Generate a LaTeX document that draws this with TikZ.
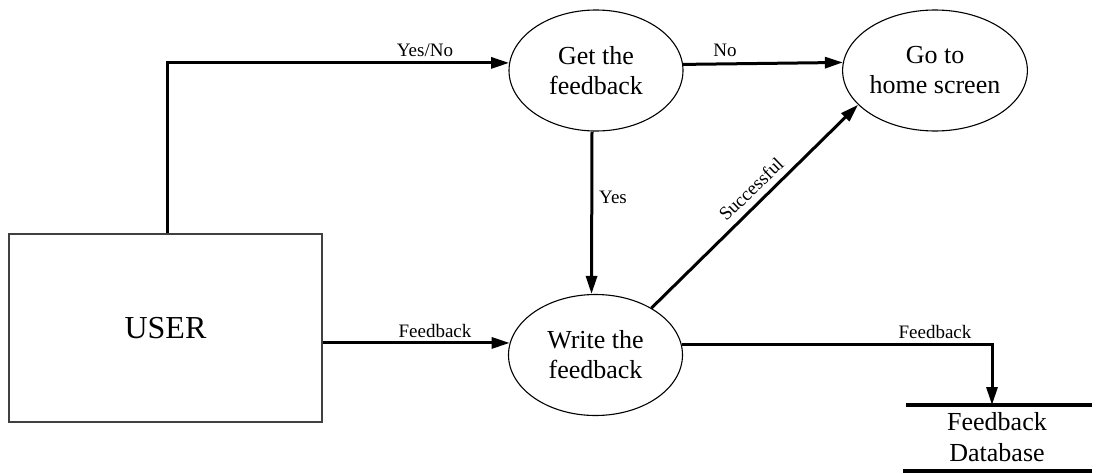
\documentclass[tikz,border=0pt]{standalone}
\usepackage{fontspec}
\setmainfont{Liberation Serif}
\usetikzlibrary{shapes.geometric,arrows.meta,calc}

\tikzset{
  process/.style={ellipse, draw, line width=1.1pt, minimum width=174pt,
    minimum height=121pt, inner sep=0pt, align=center,
    font=\fontsize{26}{30}\selectfont},
  entity/.style={rectangle, draw=black!75, line width=1.5pt,
    minimum width=313pt, minimum height=188pt, inner sep=0pt,
    font=\fontsize{32}{36}\selectfont},
  flow/.style={line width=3pt, -{Triangle[length=18pt,width=11pt]}},
  flowlabel/.style={inner sep=0pt, font=\fontsize{19}{22}\selectfont},
  storeline/.style={line width=3.5pt},
  storetext/.style={inner sep=0pt, align=center,
    font=\fontsize{26}{31}\selectfont}
}

\begin{document}
\begin{tikzpicture}[x=1pt, y=-1pt]
  \useasboundingbox (0,0) rectangle (1101,474);

  % external entity and processes
  \node[entity]  (user)  at (165.5,328) {USER};
  \node[process] (get)   at (596,70.5)  {Get the\\feedback};
  \node[process] (go)    at (935,70.5)  {Go to\\home screen};
  \node[process] (write) at (595.5,355) {Write the\\feedback};

  % data store
  \node[storetext] (db) at (997,437.5) {Feedback\\Database};
  \coordinate (dbtopL) at (906,405);
  \coordinate (dbtopR) at (1092,405);
  \coordinate (dbbotL) at (903,471);
  \coordinate (dbbotR) at (1092,471);
  \coordinate (dbin)   at (992,405);
  \draw[storeline] (dbtopL) -- (dbtopR);
  \draw[storeline] (dbbotL) -- (dbbotR);

  % flows
  \draw[flow] ([xshift=1.5pt]user.north) |- (get.175.4);
  \draw[flow] (get.4.6) -- (go.175.4);
  \draw[flow] ([xshift=-4pt]get.south) -- ([xshift=-4pt]write.north);
  \draw[flow] (user.east |- write.172.6) -- (write.172.6);
  \draw[flow] (write.40.8) -- (go.204);
  \draw[flow] (write.7.4) -| (dbin);

  % flow labels
  \node[flowlabel] (lyesno) at (425,50)  {Yes/No};
  \node[flowlabel] (lno)    at (725,50)  {No};
  \node[flowlabel] (lyes)   at (613,197) {Yes};
  \node[flowlabel] (lfb1)   at (435,331) {Feedback};
  \node[flowlabel] (lfb2)   at (935,332) {Feedback};
  \node[flowlabel, rotate=44] (lsucc) at (751,189) {Successful};
\end{tikzpicture}
\end{document}
